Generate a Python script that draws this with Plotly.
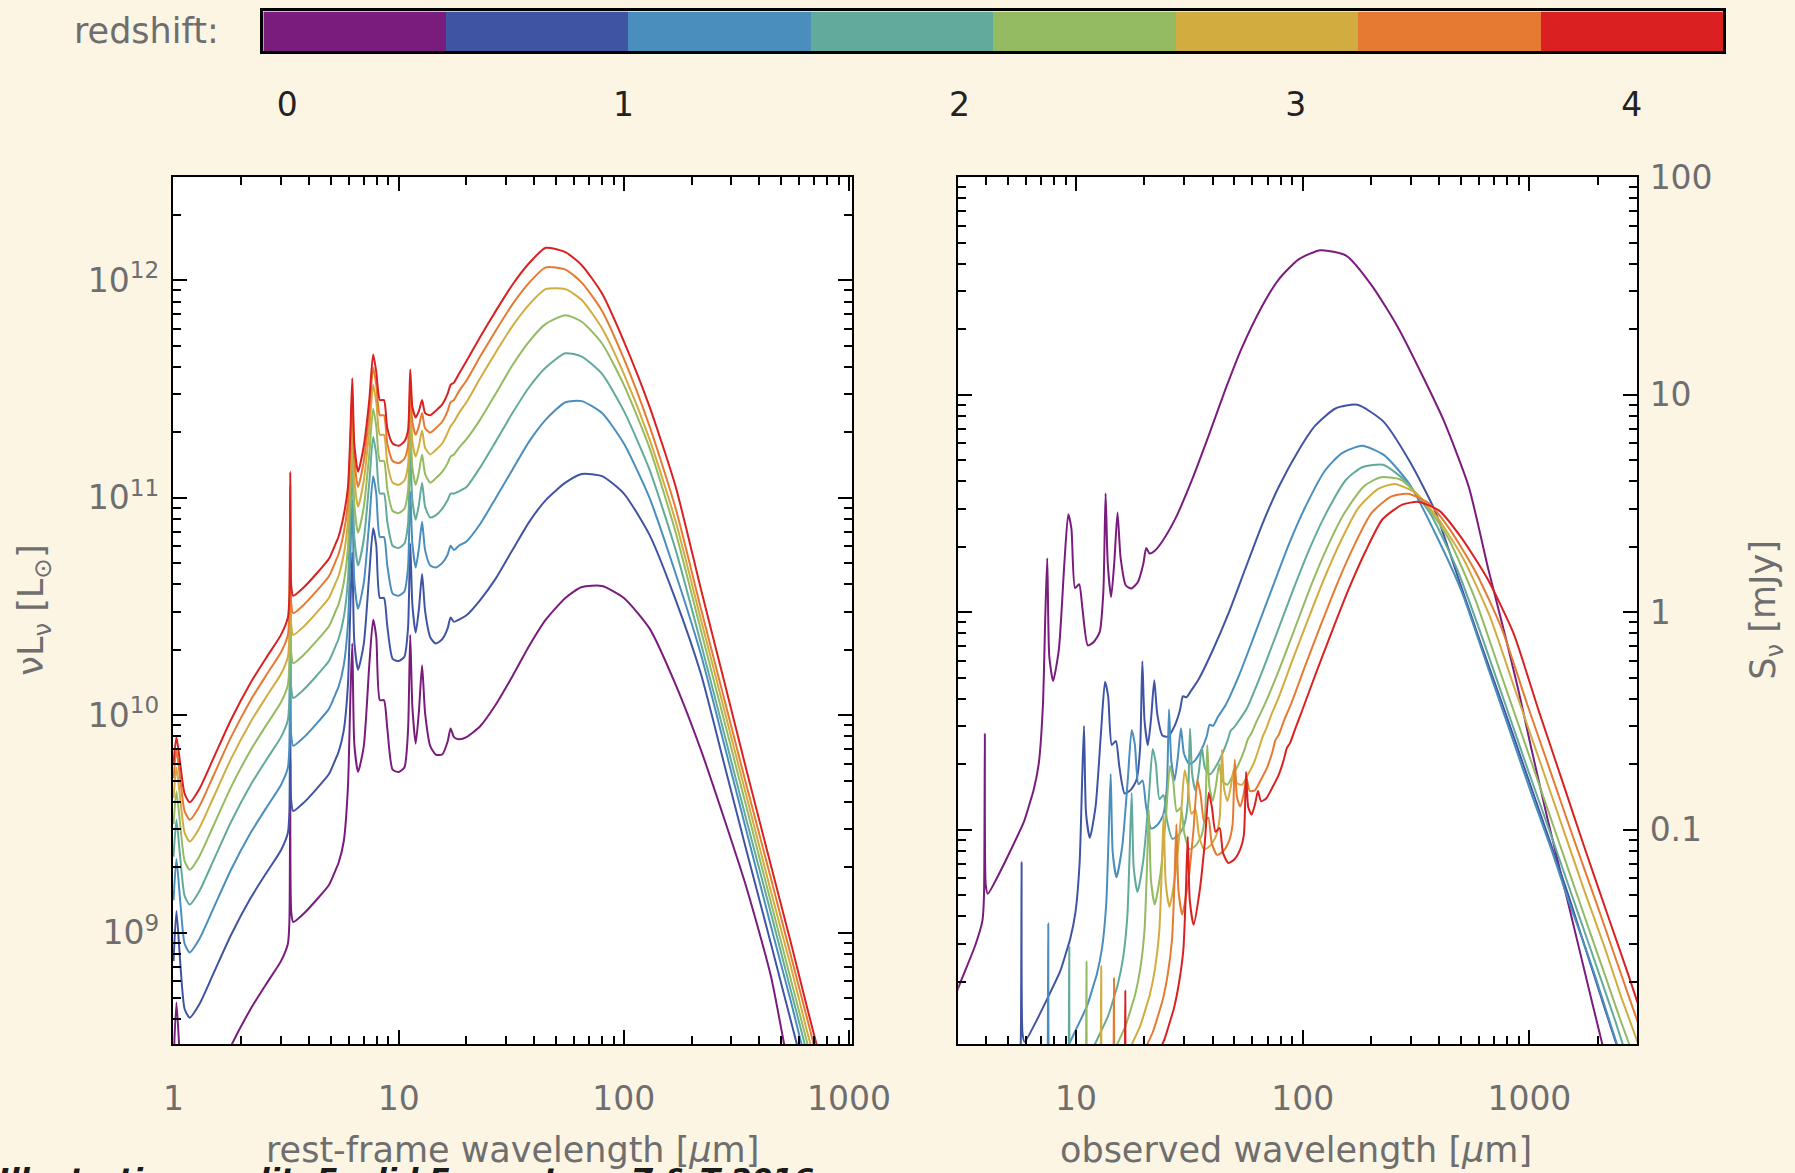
import numpy as np
import plotly.graph_objects as go

# ---------------- data ----------------
redshift = [0.2, 0.743, 1.286, 1.829, 2.371, 2.914, 3.457, 4.0]
colors = ["#7A1C7D", "#4054A4", "#4A8EBE", "#62AA9A", "#94BA62", "#D2AC3E", "#E67A32", "#DA2020"]

# rest-frame wavelength grid [micron]
lam_rest = [1.00, 1.03, 1.07, 1.12, 1.18, 1.30, 1.50, 1.80, 2.20, 2.60,
            3.00, 3.22, 3.27, 3.30, 3.33, 3.40, 3.80, 4.30, 4.90, 5.25,
            5.40, 5.70, 5.95, 6.10, 6.22, 6.35, 6.60, 7.00, 7.40, 7.70,
            7.95, 8.25, 8.60, 8.90, 9.40, 10.0, 10.6, 11.0, 11.25, 11.5,
            11.9, 12.3, 12.7, 13.1, 13.8, 14.6, 15.6, 16.5, 17.0, 17.6,
            18.5, 20, 23, 27, 32, 38, 45, 55, 65, 80,
            100, 130, 170, 220, 280, 350, 450, 550, 650, 750,
            850, 1000, 1250, 1600, 2000, 2600]

# log10( nu L_nu / L_sun ) for each redshift
logL_z020 = [8.40, 8.68, 8.40, 8.14, 8.10, 8.16, 8.30, 8.48, 8.65, 8.77,
             8.87, 8.95, 9.05, 9.80, 9.10, 9.05, 9.09, 9.15, 9.22, 9.29,
             9.32, 9.42, 9.67, 10.08, 10.33, 9.87, 9.74, 9.86, 10.23, 10.44,
             10.36, 10.07, 10.07, 9.94, 9.75, 9.74, 9.76, 9.93, 10.37, 10.04,
             9.87, 10.02, 10.23, 10.01, 9.86, 9.82, 9.82, 9.88, 9.94, 9.90,
             9.89, 9.90, 9.95, 10.05, 10.18, 10.32, 10.44, 10.54, 10.59, 10.595,
             10.54, 10.40, 10.14, 9.84, 9.52, 9.21, 8.80, 8.33, 7.96, 7.63,
             7.32, 6.93, 6.42, 5.85, 5.34, 4.73]
logL_z074 = [8.87, 9.10, 8.87, 8.65, 8.61, 8.67, 8.81, 8.99, 9.16, 9.28,
             9.38, 9.46, 9.56, 10.40, 9.61, 9.56, 9.60, 9.66, 9.73, 9.80,
             9.83, 9.93, 10.14, 10.50, 10.75, 10.34, 10.21, 10.33, 10.65, 10.86,
             10.78, 10.54, 10.54, 10.41, 10.26, 10.25, 10.27, 10.40, 10.79, 10.51,
             10.38, 10.49, 10.65, 10.48, 10.36, 10.33, 10.35, 10.40, 10.45, 10.43,
             10.44, 10.46, 10.53, 10.63, 10.76, 10.89, 10.99, 11.07, 11.11, 11.10,
             11.02, 10.83, 10.53, 10.19, 9.77, 9.38, 8.95, 8.60, 8.31, 8.06,
             7.84, 7.54, 7.13, 6.68, 6.27, 5.79]
logL_z129 = [9.15, 9.34, 9.15, 8.95, 8.91, 8.97, 9.11, 9.29, 9.46, 9.58,
             9.68, 9.76, 9.86, 10.58, 9.91, 9.86, 9.90, 9.96, 10.03, 10.10,
             10.13, 10.23, 10.42, 10.74, 10.99, 10.62, 10.49, 10.61, 10.89, 11.10,
             11.02, 10.82, 10.82, 10.69, 10.56, 10.55, 10.57, 10.68, 11.03, 10.79,
             10.68, 10.77, 10.89, 10.76, 10.69, 10.68, 10.70, 10.74, 10.78, 10.76,
             10.78, 10.80, 10.88, 11.00, 11.13, 11.26, 11.36, 11.44, 11.445, 11.39,
             11.25, 11.00, 10.65, 10.28, 9.86, 9.47, 9.03, 8.69, 8.39, 8.15,
             7.93, 7.63, 7.22, 6.77, 6.36, 5.88]
logL_z183 = [9.35, 9.52, 9.35, 9.17, 9.13, 9.19, 9.33, 9.51, 9.68, 9.80,
             9.90, 9.98, 10.08, 10.74, 10.13, 10.08, 10.12, 10.18, 10.25, 10.32,
             10.35, 10.45, 10.62, 10.92, 11.17, 10.82, 10.69, 10.81, 11.07, 11.28,
             11.20, 11.02, 11.02, 10.89, 10.78, 10.77, 10.79, 10.88, 11.21, 10.99,
             10.90, 10.97, 11.07, 10.96, 10.91, 10.92, 10.95, 10.99, 11.02, 11.02,
             11.03, 11.05, 11.14, 11.26, 11.39, 11.51, 11.60, 11.665, 11.65, 11.57,
             11.40, 11.13, 10.76, 10.33, 9.91, 9.52, 9.09, 8.74, 8.45, 8.20,
             7.98, 7.68, 7.27, 6.82, 6.41, 5.93]
logL_z237 = [9.50, 9.65, 9.50, 9.33, 9.29, 9.35, 9.49, 9.67, 9.84, 9.96,
             10.06, 10.14, 10.24, 10.88, 10.29, 10.24, 10.28, 10.34, 10.41, 10.48,
             10.51, 10.61, 10.77, 11.05, 11.30, 10.97, 10.84, 10.96, 11.20, 11.41,
             11.33, 11.17, 11.17, 11.04, 10.94, 10.93, 10.95, 11.03, 11.34, 11.14,
             11.06, 11.12, 11.20, 11.11, 11.07, 11.09, 11.12, 11.16, 11.19, 11.20,
             11.23, 11.27, 11.36, 11.48, 11.61, 11.72, 11.80, 11.84, 11.81, 11.71,
             11.52, 11.23, 10.84, 10.39, 9.97, 9.58, 9.14, 8.79, 8.50, 8.25,
             8.04, 7.74, 7.33, 6.88, 6.47, 5.99]
logL_z291 = [9.62, 9.76, 9.62, 9.46, 9.42, 9.48, 9.62, 9.80, 9.97, 10.09,
             10.19, 10.27, 10.37, 10.99, 10.42, 10.37, 10.41, 10.47, 10.54, 10.61,
             10.64, 10.74, 10.89, 11.16, 11.41, 11.09, 10.96, 11.08, 11.31, 11.52,
             11.44, 11.29, 11.29, 11.16, 11.07, 11.06, 11.08, 11.15, 11.45, 11.26,
             11.19, 11.24, 11.31, 11.23, 11.20, 11.22, 11.25, 11.30, 11.33, 11.35,
             11.39, 11.44, 11.55, 11.67, 11.79, 11.89, 11.96, 11.96, 11.91, 11.78,
             11.57, 11.27, 10.89, 10.44, 10.02, 9.63, 9.19, 8.85, 8.55, 8.31,
             8.09, 7.79, 7.38, 6.93, 6.52, 6.04]
logL_z346 = [9.71, 9.84, 9.71, 9.56, 9.52, 9.58, 9.72, 9.90, 10.07, 10.19,
             10.29, 10.37, 10.47, 11.06, 10.52, 10.47, 10.51, 10.57, 10.64, 10.71,
             10.74, 10.84, 10.98, 11.24, 11.49, 11.18, 11.05, 11.17, 11.39, 11.60,
             11.52, 11.38, 11.38, 11.25, 11.17, 11.16, 11.18, 11.24, 11.53, 11.35,
             11.29, 11.33, 11.39, 11.32, 11.30, 11.32, 11.35, 11.40, 11.44, 11.45,
             11.49, 11.54, 11.65, 11.77, 11.89, 11.99, 12.06, 12.05, 11.99, 11.86,
             11.64, 11.33, 10.95, 10.49, 10.07, 9.68, 9.25, 8.90, 8.61, 8.36,
             8.14, 7.84, 7.43, 6.98, 6.57, 6.09]
logL_z400 = [9.78, 9.90, 9.78, 9.64, 9.60, 9.66, 9.80, 9.98, 10.15, 10.27,
             10.37, 10.45, 10.55, 11.12, 10.60, 10.55, 10.59, 10.65, 10.72, 10.79,
             10.82, 10.92, 11.05, 11.30, 11.55, 11.25, 11.12, 11.24, 11.45, 11.66,
             11.58, 11.45, 11.45, 11.32, 11.25, 11.24, 11.26, 11.31, 11.59, 11.42,
             11.37, 11.40, 11.45, 11.39, 11.38, 11.40, 11.43, 11.48, 11.52, 11.53,
             11.57, 11.63, 11.74, 11.86, 11.98, 12.08, 12.15, 12.13, 12.07, 11.94,
             11.72, 11.42, 11.05, 10.58, 10.15, 9.75, 9.31, 8.96, 8.66, 8.41,
             8.19, 7.89, 7.48, 7.03, 6.62, 6.14]
logL_series = [logL_z020, logL_z074, logL_z129, logL_z183,
               logL_z237, logL_z291, logL_z346, logL_z400]

# log10 flux-conversion term per redshift (S_nu[mJy] = nuL_nu * lambda_obs * 10^term)
flux_term = [-10.954, -12.307, -12.886, -13.246, -13.53, -13.725, -13.907, -14.074]

left_xticks = [1, 10, 100, 1000]
left_yticks = [1e9, 1e10, 1e11, 1e12]
left_yticktext = ["10<sup>9</sup>", "10<sup>10</sup>", "10<sup>11</sup>", "10<sup>12</sup>"]
right_xticks = [10, 100, 1000]
right_yticks = [0.01, 0.1, 1, 10, 100]
right_yticktext = ["0.01", "0.1", "1", "10", "100"]
cbar_ticks = [0, 1, 2, 3, 4]
credit_text = "Illustration credit: Euclid Ecosystem, Z &amp; T 2016"

for s in logL_series:
    assert len(s) == len(lam_rest)

# ---------------- figure ----------------
W, H = 1795, 1173
BG = "#FDF5E4"
FONT = "DejaVu Sans, Verdana, sans-serif"
TICKC = "#6e6e6e"

fig = go.Figure()
lam = np.array(lam_rest)
for k in range(8):
    L = np.array(logL_series[k])
    fig.add_trace(go.Scatter(x=lam, y=10 ** L, mode="lines",
                             line=dict(color=colors[k], width=2, shape="spline", smoothing=0.6),
                             xaxis="x", yaxis="y", showlegend=False, hoverinfo="skip"))
for k in range(8):
    L = np.array(logL_series[k])
    lam_obs = lam * (1 + redshift[k])
    logS = L + np.log10(lam_obs) + flux_term[k]
    fig.add_trace(go.Scatter(x=lam_obs, y=10 ** logS, mode="lines",
                             line=dict(color=colors[k], width=2, shape="spline", smoothing=0.6),
                             xaxis="x2", yaxis="y2", showlegend=False, hoverinfo="skip"))

# redshift colour bar
cs = []
for i, c in enumerate(colors):
    cs.append([i / 8, c])
    cs.append([(i + 1) / 8, c])
fig.add_trace(go.Heatmap(x=redshift, y=[0], z=[list(range(8))], colorscale=cs,
                         zmin=-0.5, zmax=7.5, showscale=False, xaxis="x3", yaxis="y3",
                         hoverinfo="skip"))

def ax(**kw):
    d = dict(showgrid=False, zeroline=False, showline=True, linecolor="black", linewidth=2,
             mirror="ticks", ticks="inside", ticklen=14, tickwidth=2, tickcolor="black",
             automargin=False,
             tickfont=dict(family=FONT, size=33, color=TICKC))
    d.update(kw)
    return d

minor = dict(ticks="inside", ticklen=8, tickwidth=1.5, tickcolor="black", dtick="D1", showgrid=False)

yd = [0.110, 0.8488]
fig.update_layout(
    width=W, height=H, margin=dict(l=0, r=0, t=0, b=0, pad=0, autoexpand=False),
    paper_bgcolor=BG, plot_bgcolor="white",
    xaxis=ax(type="log", range=[-0.003, 3.012], domain=[0.0963, 0.4745], anchor="y",
             tickvals=left_xticks, ticktext=[str(v) for v in left_xticks],
             ticklabelstandoff=24, minor=minor),
    yaxis=ax(type="log", range=[8.489, 12.474], domain=yd, anchor="x",
             tickvals=left_yticks, ticktext=left_yticktext, ticklabelstandoff=5, minor=minor),
    xaxis2=ax(type="log", range=[0.480, 3.475], domain=[0.5338, 0.9120], anchor="y2",
              tickvals=right_xticks, ticktext=[str(v) for v in right_xticks],
              ticklabelstandoff=24, minor=minor),
    yaxis2=ax(type="log", range=[-1.984, 2.0], domain=yd, anchor="x2", side="right",
              tickvals=right_yticks, ticktext=right_yticktext, ticklabelstandoff=4, minor=minor),
    xaxis3=dict(range=[-0.0715, 4.2715], domain=[0.1467, 0.9599], anchor="y3",
                showgrid=False, zeroline=False, showline=True, linecolor="black", linewidth=3,
                mirror=True, ticks="", tickvals=cbar_ticks, automargin=False,
                tickfont=dict(family=FONT, size=33, color="#222222"), ticklabelstandoff=22),
    yaxis3=dict(range=[-0.5, 0.5], domain=[0.9561, 0.9903], anchor="x3", automargin=False,
                showgrid=False, zeroline=False, showline=True, linecolor="black", linewidth=3,
                mirror=True, ticks="", showticklabels=False),
)

TF = dict(family=FONT, size=35, color="#6e6e6e")
ann = [
    dict(text="redshift:", x=221 / W, y=1 - 31 / H, xanchor="right", yanchor="middle"),
    dict(text="νL<sub>ν</sub> [L<sub>⊙</sub>]", x=34 / W, y=(yd[0] + yd[1]) / 2,
         xanchor="center", yanchor="middle", textangle=-90),
    dict(text="S<sub>ν</sub> [mJy]", x=1766 / W, y=(yd[0] + yd[1]) / 2,
         xanchor="center", yanchor="middle", textangle=-90),
    dict(text="rest-frame wavelength [<i>μ</i>m]", x=512 / W, y=1 - 1150 / H,
         xanchor="center", yanchor="middle"),
    dict(text="observed wavelength [<i>μ</i>m]", x=1296 / W, y=1 - 1150 / H,
         xanchor="center", yanchor="middle"),
]
for a in ann:
    a.update(xref="paper", yref="paper", showarrow=False, font=TF)
# partially visible credit line at the very bottom edge
ann.append(dict(text="<b><i>" + credit_text + "</i></b>", x=-4 / W, y=1 - 1160 / H,
                xref="paper", yref="paper", xanchor="left", yanchor="top", showarrow=False,
                font=dict(family=FONT, size=30, color="#1a1a1a")))
fig.update_layout(annotations=ann)

fig.write_html("out.html",
               config={"displayModeBar": False},
               post_script="document.body.style.margin='0px';"
                           "document.body.style.background='" + BG + "';")
